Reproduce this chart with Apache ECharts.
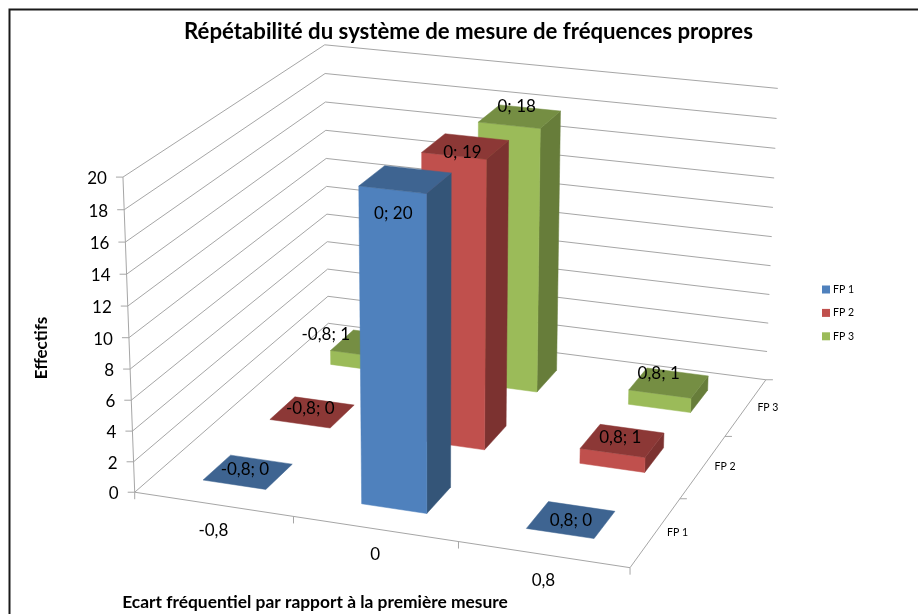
<!DOCTYPE html>
<html><head><meta charset="utf-8">
<style>html,body{margin:0;padding:0;background:#fff}#c{width:918px;height:614px}</style>
<script src="https://cdn.jsdelivr.net/npm/echarts@6/dist/echarts.min.js"></script>
</head><body><div id="c"></div>
<script>
const xCategories = ['-0,8', '0', '0,8'];
const depthCategories = ['FP 1', 'FP 2', 'FP 3'];
const yTicks = [0, 2, 4, 6, 8, 10, 12, 14, 16, 18, 20];
const fp1 = [0, 20, 0];
const fp2 = [0, 19, 1];
const fp3 = [1, 18, 1];

const FONT = 'Lato';
const palette = [
  { front: '#4F81BD', top: '#3E6491', side: '#345578' },
  { front: '#C0504D', top: '#8C3836', side: '#7C3230' },
  { front: '#9BBB59', top: '#758E43', side: '#677D3A' }
];
// Data-label nudges relative to each bar's top-face centre (Excel's own placement)
const labelNudge = [
  [[-3, -3], [-12, 34], [0, 1]],
  [[-2, -4], [-3, 6], [-2, -3]],
  [[-45, -9], [-3, -10], [-10, -9]]
];

// Camera: a projective map of the unit chart cube (u across, v deep, w up) fitted to the view of the box
const cameraFit = [
  [0, 0, 0, 135, 492.5], [1, 0, 0, 630, 567.5], [1, 1, 0, 766, 380], [0, 1, 0, 328, 323],
  [0, 0, 1, 122.7, 177], [0, 1, 1, 325, 45], [1, 1, 1, 777.7, 88.3]
];
function fitCamera(pts) {
  const A = [], b = [];
  pts.forEach(([u, v, w, x, y]) => {
    A.push([u, v, w, 1, 0, 0, 0, 0, -u * x, -v * x, -w * x]); b.push(x);
    A.push([0, 0, 0, 0, u, v, w, 1, -u * y, -v * y, -w * y]); b.push(y);
  });
  const n = 11, M = [];
  for (let i = 0; i < n; i++) {
    M.push([]);
    for (let j = 0; j < n; j++) { let s = 0; A.forEach(r => { s += r[i] * r[j]; }); M[i].push(s); }
    let s = 0; A.forEach((r, k) => { s += r[i] * b[k]; }); M[i].push(s);
  }
  for (let i = 0; i < n; i++) {
    let p = i;
    for (let r = i + 1; r < n; r++) if (Math.abs(M[r][i]) > Math.abs(M[p][i])) p = r;
    [M[i], M[p]] = [M[p], M[i]];
    for (let r = 0; r < n; r++) if (r !== i) {
      const f = M[r][i] / M[i][i];
      for (let c = i; c <= n; c++) M[r][c] -= f * M[i][c];
    }
  }
  return M.map((r, i) => r[n] / r[i]);
}
const C = fitCamera(cameraFit);
function project(u, v, w) {
  const d = C[8] * u + C[9] * v + C[10] * w + 1;
  return [(C[0] * u + C[1] * v + C[2] * w + C[3]) / d, (C[4] * u + C[5] * v + C[6] * w + C[7]) / d];
}

const GAP = 0.4; // bar fraction of its band (Excel gap width 150 %)
const chart = echarts.init(document.getElementById('c'), null, { renderer: 'canvas' });

function poly(points, fill, z2) {
  return { type: 'polygon', z2: z2, shape: { points }, style: { fill, stroke: fill, lineWidth: 0.5 } };
}
function seg(a, b, color) {
  return { type: 'line', shape: { x1: a[0], y1: a[1], x2: b[0], y2: b[1] }, style: { stroke: color || '#A6A6A6', lineWidth: 1 } };
}
function txt(p, text, opts) {
  return { type: 'text', z2: 100, style: Object.assign({ x: p[0], y: p[1], text, fill: '#000', font: '17px ' + FONT, align: 'center', verticalAlign: 'middle' }, opts || {}) };
}
function barGeom(api, d) {
  const i = api.value(0), val = api.value(1);
  const W = api.getWidth(), H = api.getHeight();
  return {
    i, val,
    uc: api.coord([i, 0])[0] / W,
    w: 1 - api.coord([i, val])[1] / H,
    hu: api.size([1, 0])[0] / W * GAP / 2,
    vc: (d + 0.5) / depthCategories.length,
    hv: GAP / 2 / depthCategories.length
  };
}

function barSeries(name, values, d) {
  return {
    name, type: 'custom', coordinateSystem: 'cartesian2d', z: 10 - d,
    itemStyle: { color: palette[d].front },
    data: values.map((v, i) => [i, v]),
    renderItem(params, api) {
      const g = barGeom(api, d), w = g.w;
      const u0 = g.uc - g.hu, u1 = g.uc + g.hu, v0 = g.vc - g.hv, v1 = g.vc + g.hv;
      const c = palette[d];
      const kids = [];
      if (g.val > 0) {
        kids.push(poly([project(u0, v0, 0), project(u1, v0, 0), project(u1, v0, w), project(u0, v0, w)], c.front, 2));
        kids.push(poly([project(u1, v0, 0), project(u1, v1, 0), project(u1, v1, w), project(u1, v0, w)], c.side, 1));
      }
      kids.push(poly([project(u0, v0, w), project(u1, v0, w), project(u1, v1, w), project(u0, v1, w)], c.top, 3));
      return { type: 'group', children: kids };
    }
  };
}

function labelSeries(values, d) {
  return {
    type: 'custom', coordinateSystem: 'cartesian2d', z: 20, silent: true,
    data: values.map((v, i) => [i, v]),
    renderItem(params, api) {
      const g = barGeom(api, d);
      const ctr = project(g.uc, g.vc, g.w), nudge = labelNudge[d][g.i];
      return txt([ctr[0] + nudge[0], ctr[1] + nudge[1]], xCategories[g.i] + '; ' + g.val);
    }
  };
}

const frameSeries = {
  type: 'custom', coordinateSystem: 'cartesian2d', z: 1, silent: true,
  data: yTicks.map(t => [0, t]),
  renderItem(params, api) {
    const t = api.value(1);
    const w = 1 - api.coord([0, t])[1] / api.getHeight();
    const kids = [];
    const a = project(0, 0, w), b = project(0, 1, w), c = project(1, 1, w);
    kids.push(seg(a, b), seg(b, c), seg([a[0] - 7, a[1]], a));
    kids.push(txt([a[0] - 16, a[1] + 1.5], String(t), { align: 'right' }));
    if (params.dataIndex === 0) {
      const top = project(0, 0, 1), fr = project(1, 0, 0), br = project(1, 1, 0);
      kids.push(seg(a, top), seg(a, fr), seg(fr, br));
      const n = xCategories.length, m = depthCategories.length;
      for (let i = 0; i <= n; i++) { const p = project(i / n, 0, 0); kids.push(seg(p, [p[0], p[1] + 7])); }
      for (let j = 1; j <= m; j++) { const p = project(1, j / m, 0); kids.push(seg(p, [p[0] + 7, p[1]])); }
      xCategories.forEach((s, i) => {
        const p = project(api.coord([i, 0])[0] / api.getWidth(), 0, 0);
        kids.push(txt([p[0], p[1] + 26], s));
      });
      depthCategories.forEach((s, j) => {
        const p = project(1, (j + 0.5) / m, 0);
        kids.push(txt([p[0] + 22, p[1]], s, { font: '10.5px ' + FONT }));
      });
    }
    return { type: 'group', children: kids };
  }
};

chart.setOption({
  animation: false,
  backgroundColor: '#fff',
  title: [
    { text: 'Répétabilité du système de mesure de fréquences propres', left: 463.5, top: 27, textAlign: 'center', textVerticalAlign: 'middle',
      textStyle: { fontFamily: FONT, fontSize: 22.2, fontWeight: 'bold', color: '#000' } },
    { text: 'Ecart fréquentiel par rapport à la première mesure', left: 310, top: 597, textAlign: 'center', textVerticalAlign: 'middle',
      textStyle: { fontFamily: FONT, fontSize: 17.4, fontWeight: 'bold', color: '#000' } }
  ],
  graphic: [
    { type: 'text', x: 42, y: 348, rotation: Math.PI / 2, style: { text: 'Effectifs', font: 'bold 17px ' + FONT, fill: '#000', align: 'center', verticalAlign: 'middle' } },
    { type: 'polyline', shape: { points: [[9.5, 614], [9.5, 9.5], [918, 9.5]] }, style: { stroke: '#1a1a1a', lineWidth: 2, fill: 'none' } }
  ],
  legend: {
    data: depthCategories, orient: 'vertical', left: 817, top: 279, itemWidth: 8, itemHeight: 8, itemGap: 12.4, icon: 'rect',
    textStyle: { fontFamily: FONT, fontSize: 10.5, color: '#000', padding: [0, 0, 0, -2] }, selectedMode: false
  },
  grid: { left: 0, top: 0, right: 0, bottom: 0, containLabel: false },
  xAxis: { type: 'category', data: xCategories, show: false },
  yAxis: { type: 'value', min: 0, max: 20, interval: 2, show: false },
  series: [frameSeries,
    barSeries('FP 3', fp3, 2), barSeries('FP 2', fp2, 1), barSeries('FP 1', fp1, 0),
    labelSeries(fp3, 2), labelSeries(fp2, 1), labelSeries(fp1, 0)]
});
</script></body></html>
